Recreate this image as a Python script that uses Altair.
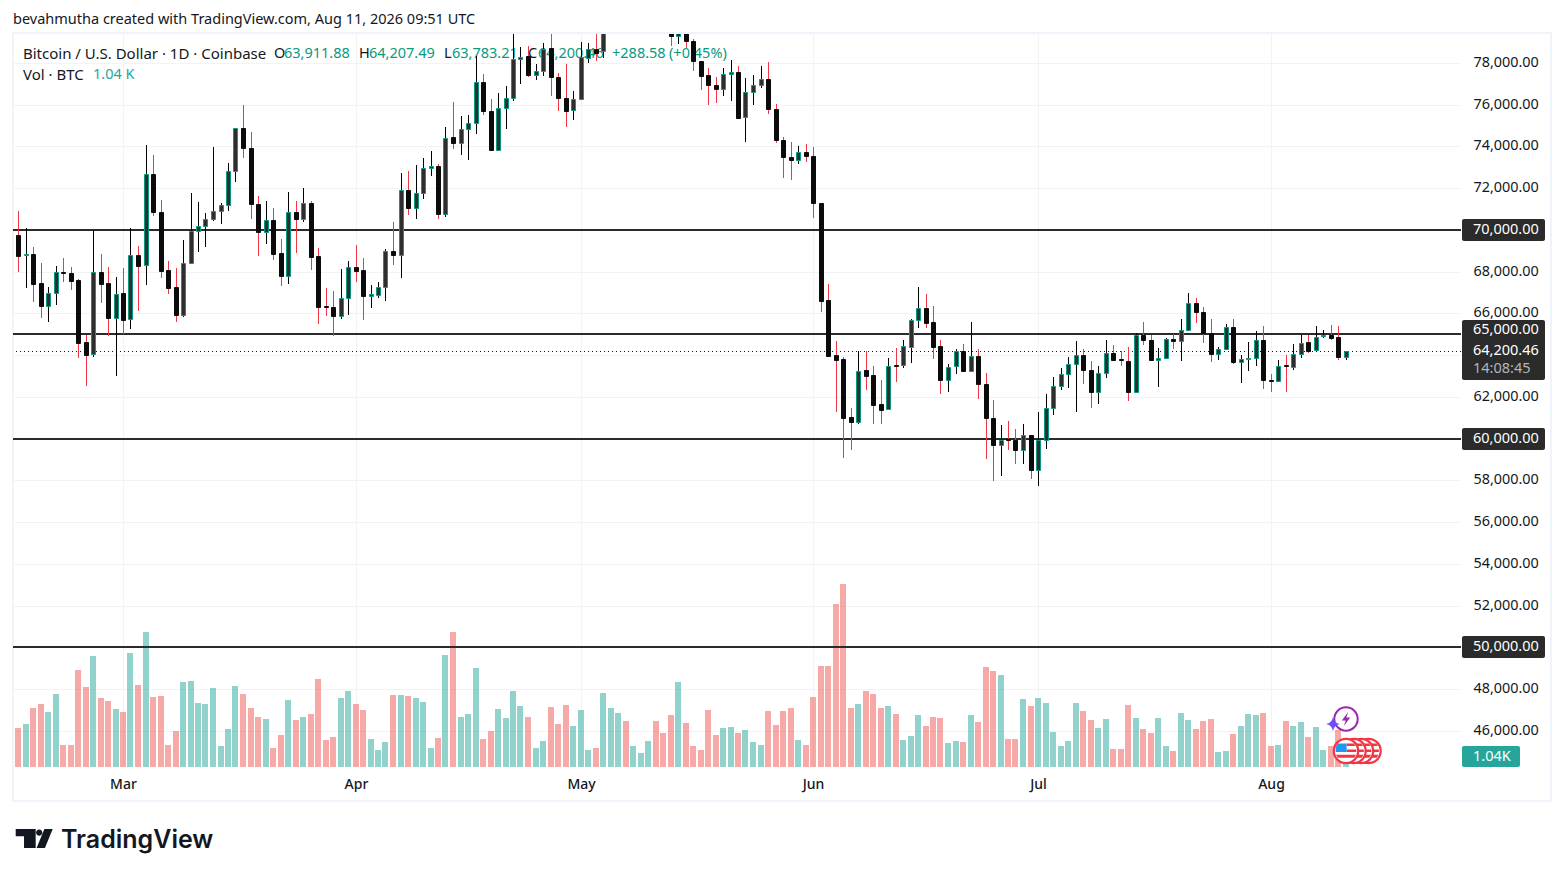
import altair as alt
import pandas as pd

FONT = "Noto Sans"
# ---- daily candles, 15 Feb - 11 Aug 2026 (the run 79-86 lies above the pane)
opens = [69760,68784,68848,67456,66368,66960,67984,67936,67600,64624,64032,67984,67456,65792,66976,65744,68800,68304,72688,70864,
68080,67264,65936,68400,69936,70160,70512,70896,71184,72816,74880,73920,71232,69888,70464,68880,67808,70848,70496,71280,
68736,66352,66304,65888,66720,68208,68064,66848,66896,67248,68976,68816,71904,71040,71760,72944,73072,70736,74464,74144,
74816,75104,77088,75712,73808,75824,76320,78192,78304,77424,77600,78688,77344,76320,75728,76256,78240,78685,78556,79500,
80100,80800,80200,80700,81000,81300,80700,79600,79296,79600,79056,78096,77392,76944,76752,77472,77536,75408,76592,76928,
77232,75792,74304,73488,73328,73728,73552,71296,66640,63984,63792,61024,60800,63264,63024,61632,61392,63520,63504,64368,
65664,66240,65568,64416,62816,63488,64208,63248,63968,62624,60992,59696,59984,59952,59440,60176,58480,59936,61472,62528,
63104,63584,64016,63296,62224,63152,64112,63792,63728,62224,64976,64704,63760,63872,64784,64672,65200,66512,66080,65072,
64048,64304,65360,63664,63808,63872,64736,62816,62752,63504,63424,64048,64608,64224,64896,64944,64848,63911.88]
highs = [70912,70080,69184,68416,67264,68272,68672,68224,67632,64960,70000,68848,68240,67744,68176,70080,69232,74080,73600,71440,
68512,68176,69520,71776,71344,70800,73984,71296,73216,74900,76000,74704,71632,71392,71040,69568,71824,71392,72016,71376,
69136,67216,67072,68128,68512,69280,68672,67360,67504,69072,70384,72736,72816,73120,73456,73792,73168,74944,76144,75472,
75504,78320,77440,76288,76560,76912,79700,78752,78800,77920,78928,79500,77488,77920,76672,78976,78960,79600,79800,80400,
81000,81100,80900,81200,81500,81400,80900,79800,79900,79900,79152,78100,77760,77344,77760,78112,77824,77280,77392,77840,
78016,76032,74448,74224,74032,74128,73984,71296,67408,64672,63888,61456,64192,64192,63472,62800,63856,64320,64720,65728,
67264,66928,66352,64720,63568,64304,64512,65568,64272,63152,61856,60656,60848,60480,60704,60176,61296,62144,62944,63392,
63920,64656,64272,63728,63456,64704,64464,64176,64400,65072,65568,64960,64352,64816,65008,65744,66960,66720,66288,65744,
64400,65504,65712,64016,64640,65136,65376,63104,63744,64016,64512,64960,64960,65376,65184,65424,65376,64207.49]
lows = [68000,67232,66560,65792,65600,66416,67520,67136,63872,62528,63920,66512,64928,63008,65008,65264,66128,67376,70640,67712,
66944,65600,65840,68384,68960,69200,70400,70256,70880,72272,73424,70496,68768,69344,68576,67328,67424,68912,70352,68096,
65504,65888,64928,65744,65936,67504,65696,66272,66752,66608,68336,67712,70688,70496,71456,72560,70496,70592,73856,73568,
73328,74576,75488,73792,73760,74816,76160,76976,77312,77200,77360,76432,75680,74912,75280,76240,78000,78080,78240,79450,
79900,80000,80000,80500,80700,80500,79600,78800,78880,78720,77600,76688,76000,76064,76432,76160,75312,74192,76000,76816,
75568,74144,72464,72368,73136,73264,70544,66064,63968,61280,59072,59456,60704,62336,60704,60704,61376,62720,63376,63616,
65312,65312,63808,62128,62240,63104,63168,63232,61888,59040,57984,58224,59472,58800,58800,58080,57744,59520,61152,62320,
62400,61264,62592,61456,61648,62880,63744,63472,61776,62208,64464,63712,62448,63856,64272,63696,65152,65520,64560,63648,
63760,64240,63552,62640,63216,63472,62352,62224,62752,62224,63280,63856,64096,64144,64816,64720,63760,63783.21]
closes = [68768,68848,67424,66368,66960,67968,67952,67568,64592,64016,67968,67424,65792,66912,65696,68784,68288,72672,70832,68048,
67232,65936,68400,69952,70176,70512,70896,71184,72800,74880,73904,71216,69872,70464,68864,67808,70848,70496,71280,68720,
66320,66320,65888,66720,68208,68048,66848,66912,67248,68976,68816,71904,71024,71760,72960,73072,70736,74400,74144,74832,
75120,77088,75680,73808,75840,76320,78192,78272,77392,77600,78672,77312,76304,75712,76272,78256,78685,78480,79500,80100,
80800,80200,80700,81000,81300,80700,79800,79280,79500,79040,78080,77360,76928,76736,77472,77536,75376,76608,76944,77232,
75776,74288,73472,73328,73728,73520,71264,66608,63968,63776,60992,60800,63248,63008,61616,61376,63488,63488,64416,65664,
66240,65552,64400,62816,63440,64208,63232,63968,62608,60976,59680,59952,59920,59440,60176,58480,59936,61472,62528,63104,
63584,64016,63280,62224,63152,64112,63760,63760,62224,64976,64720,63760,63872,64784,64672,65200,66512,66064,65056,64048,
64304,65360,63664,63824,63872,64736,62800,62752,63488,63472,64064,64592,64208,64880,64960,64816,63904,64200.46]
volumes = [3978,4386,6018,6426,5610,7446,2244,2244,9894,8160,11322,7038,6732,5916,5610,11628,8364,13770,7140,7242,
2244,3672,8670,8772,6528,6426,8058,2142,3876,8262,7446,6018,5100,4896,1938,3264,6834,4794,5100,5406,
8976,2754,3060,7038,7752,6426,5814,2856,1734,2550,7344,7344,7242,7038,6630,1938,2958,11424,13770,5100,
5406,10098,2856,3672,5916,4998,7752,6222,5100,1938,2652,6120,4386,6324,4182,5814,1734,1938,7548,6018,
5508,4692,2142,1428,2652,4692,3468,5304,8670,4488,2142,1734,5814,3264,3978,4080,3468,3774,2550,2244,
5712,4284,5712,6018,2754,2244,7140,10302,10302,16626,18666,6018,6426,7752,7446,6018,6222,5406,2754,3162,
5304,4182,5100,4998,2448,2652,2550,5304,4590,10200,9792,9384,2856,2856,6936,6222,7038,6528,3570,2142,
2652,6528,5712,4794,3978,4896,1836,1836,6324,4998,3876,3468,4998,2142,1632,5508,4794,3876,4692,4896,
1530,1632,3366,4182,5406,5304,5508,2142,2244,4692,4182,4590,3060,4080,1734,2142,3774,1040]
assert len(opens) == len(highs) == len(lows) == len(closes) == len(volumes) == 178

hlines = [70000, 65000, 60000, 50000]
grid_prices = list(range(46000, 80000, 2000))
axis_prices = [p for p in grid_prices if p not in (70000, 64000, 60000, 50000)]
last_close = 64200.46
months = ["2026-03-01", "2026-04-01", "2026-05-01", "2026-06-01", "2026-07-01", "2026-08-01"]

dates = pd.date_range("2026-02-15", periods=178, freq="D")
df = pd.DataFrame({"date": dates.strftime("%Y-%m-%dT00:00:00Z"), "open": opens, "high": highs,
                   "low": lows, "close": closes, "volume": volumes})

def ms(s):
    return int(pd.Timestamp(s, tz="UTC").timestamp() * 1000)

DAY = 86400000
x_scale = alt.Scale(type="utc", domain=[ms("2026-02-15") - DAY * 2 / 3, ms("2026-02-15") + DAY * 192.4],
                    nice=False, padding=0, round=True)
X = alt.X("date:T", title=None, scale=x_scale,
          axis=alt.Axis(values=[ms(m) for m in months], format="%b", grid=True, gridColor="#f3f3f3", gridWidth=1,
                        domain=False, ticks=False, labelFont=FONT, labelFontSize=14, labelFontWeight=500,
                        labelColor="#131722", labelPadding=10, labelAngle=0, labelAlign="center"))
PY = alt.Scale(domain=[44266, 79380], nice=False, zero=False, round=True)
VY = alt.Scale(domain=[0, 74766], nice=False, zero=False, round=True)
UP = "datum.close >= datum.open"

def txt(s, x, y, color="#131722", size=14.5, weight=400, font=FONT):
    return alt.Chart().mark_text(text=s, align="left", baseline="middle", font=font, fontSize=size,
                                 fontWeight=weight, color=color, clip=False).encode(
        x=alt.value(x - 13), y=alt.value(y - 34))

def box(x0, x1, y0, y1, color):
    return alt.Chart().mark_rect(color=color, cornerRadius=2, clip=False).encode(
        x=alt.value(x0 - 13), x2=alt.value(x1 - 13), y=alt.value(y0 - 34), y2=alt.value(y1 - 34))

def pt(path, x, y, half, color):
    return alt.Chart().mark_point(filled=True, fill=color, opacity=1, clip=False, size=(2 * half) ** 2,
                                  shape=path, strokeWidth=0).encode(x=alt.value(x - 13), y=alt.value(y - 34))

def circ(x, y, r, fill, stroke, sw):
    return alt.Chart().mark_point(shape="circle", filled=True, fill=fill, stroke=stroke, strokeWidth=sw, opacity=1,
                                  size=4 * r * r, clip=False).encode(x=alt.value(x - 13), y=alt.value(y - 34))

# frame
frame = alt.Chart().mark_rect(fill="transparent", stroke="#f0f3fa", strokeWidth=2, clip=False).encode(
    x=alt.value(0), x2=alt.value(1538), y=alt.value(-1), y2=alt.value(767))

# price grid with the axis labels
grid = alt.Chart(pd.DataFrame({"p": grid_prices})).mark_rule(color="#f3f3f3", strokeWidth=1, yOffset=0.5).encode(
    y=alt.Y("p:Q", scale=PY, title=None,
            axis=alt.Axis(orient="right", values=axis_prices, format=",.2f", grid=False, domain=False, ticks=False,
                          labelFont=FONT, labelFontSize=14.4, labelColor="#131722", labelPadding=12, labelOffset=-1)))

vol = alt.Chart(df).mark_bar(size=6, opacity=0.5, clip=True).encode(
    x=X, y=alt.Y("volume:Q", scale=VY, axis=None, stack=None),
    color=alt.condition(UP, alt.value("#26a69a"), alt.value("#ef5350")))

levels = alt.Chart(pd.DataFrame({"p": hlines})).mark_rule(color="#2b2b2b", strokeWidth=2).encode(
    y=alt.Y("p:Q", scale=PY, axis=None))
lastline = alt.Chart(pd.DataFrame({"p": [last_close]})).mark_rule(
    color="#131722", strokeWidth=1, strokeDash=[1, 3], yOffset=0.5).encode(y=alt.Y("p:Q", scale=PY, axis=None))

wicks = alt.Chart(df).mark_rule(strokeWidth=1, clip=True, xOffset=0.5).encode(
    x=X, y=alt.Y("high:Q", scale=PY, axis=None), y2="low:Q",
    color=alt.condition(UP, alt.value("#000000"), alt.value("#f23645")))
bodies = alt.Chart(df).mark_bar(size=4, strokeWidth=1, clip=True, xOffset=0.5, yOffset=0.5, y2Offset=0.5).encode(
    x=X, y=alt.Y("open:Q", scale=PY, axis=None), y2="close:Q",
    fill=alt.condition(UP, alt.value("#2e2e2e"), alt.value("#0b0b0b")),
    stroke=alt.condition(UP, alt.value("#089981"), alt.value("#0b0b0b")))

GR = "#089981"
texts = [
    txt("bevahmutha created with TradingView.com, Aug 11, 2026 09:51 UTC", 13, 20),
    txt("Bitcoin / U.S. Dollar · 1D · Coinbase", 23, 54, size=15),
    txt("O", 274, 54), txt("63,911.88", 284, 54, GR),
    txt("H", 359, 54), txt("64,207.49", 369, 54, GR),
    txt("L", 444, 54), txt("63,783.21", 452, 54, GR),
    txt("C", 528, 54), txt("64,200.46", 538, 54, GR),
    txt("+288.58", 612, 54, GR), txt("(+0.45%)", 669, 54, GR),
    txt("Vol · BTC", 23, 75, size=15), txt("1.04 K", 93, 75, "#26a69a"),
]
labels = [
    box(1462, 1545, 219, 241, "#2b2b2b"), txt("70,000.00", 1473, 230, "#ffffff"),
    box(1462, 1545, 320, 380, "#2b2b2b"), txt("65,000.00", 1473, 330, "#ffffff"),
    txt("64,200.46", 1473, 351, "#ffffff"), txt("14:08:45", 1473, 369, "#b2b5be"),
    box(1462, 1545, 428, 450, "#2b2b2b"), txt("60,000.00", 1473, 439, "#ffffff"),
    box(1462, 1545, 636, 658, "#2b2b2b"), txt("50,000.00", 1473, 647, "#ffffff"),
    box(1462, 1520, 746, 767, "#26a69a"), txt("1.04K", 1473, 757, "#ffffff"),
]

STRIPES = "M.05 -.62L.65 -.62L.78 -.42L.05 -.42Z M.05 -.12L.85 -.12L.85 .08L.05 .08Z M-.82 .3L.82 .3L.68 .55L-.68 .55Z"
BLUE = "M-.68 -.62L.05 -.62L.05 .08L-.85 .08L-.85 -.3Z"
icons = []
for cx in [1368.5, 1361, 1353.5, 1346]:
    icons += [circ(cx, 751, 12.2, "#ffffff", "#f23645", 2.2), pt(STRIPES, cx, 751, 12.2, "#f23645")]
icons += [pt(BLUE, 1346, 751, 12.2, "#2196f3"),
          circ(1346, 719, 11.7, "#ffffff", "#9c27b0", 2),
          pt("M.3 -1L-.6 .2L-.05 .2L-.3 1L.6 -.2L.05 -.2Z", 1346, 719, 7, "#9c27b0"),
          pt("M0 -1Q.15 -.15 1 0Q.15 .15 0 1Q-.15 .15 -1 0Q-.15 -.15 0 -1Z", 1333, 724, 7, "#6c4dff")]

LOGO = ("M-1 -.51L.08 -.51L.08 .51L-.55 .51L-.55 -.12L-1 -.12Z "
        "M.1 -.32A.17 .17 0 1 1 .44 -.32A.17 .17 0 1 1 .1 -.32Z "
        "M.55 -.51L1 -.51L.58 .51L.13 .51Z")
logo = [pt(LOGO, 34.2, 838.5, 18.5, "#131722"),
        txt("TradingView", 61, 840, "#131722", size=25, weight=600, font="Inter")]

chart = alt.layer(grid, frame, vol, levels, lastline, *texts, wicks, bodies, *labels, *icons, *logo).resolve_scale(
    y="independent"
).properties(
    width=1448, height=733, padding={"left": 5, "top": 26, "right": 95, "bottom": 90},
    autosize=alt.AutoSizeParams(type="none", contains="content"),
    background="#ffffff"
).configure_view(stroke=None)

chart.save("out.html", embed_options={"renderer": "svg", "actions": False})
